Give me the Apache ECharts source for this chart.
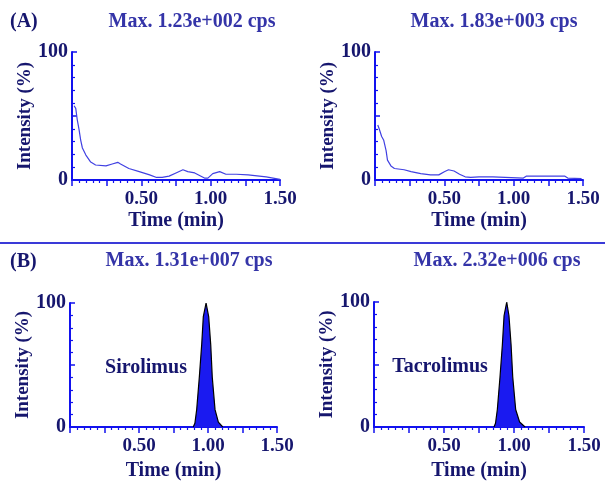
<!DOCTYPE html>
<html>
<head>
<meta charset="utf-8">
<script src="https://cdn.jsdelivr.net/npm/echarts@6/dist/echarts.min.js"></script>
<style>
html,body{margin:0;padding:0;background:#fff;}
#chart{width:605px;height:482px;}
</style>
</head>
<body>
<div id="chart"></div>
<script>
// ---- data (time in min, intensity in %) ----
const blankSirolimus = [[0.015,58],[0.027,56],[0.038,47],[0.05,40],[0.063,31],[0.075,25],[0.1,19.5],[0.135,14],[0.17,11.7],[0.245,11],[0.29,12.5],[0.33,13.8],[0.35,12.5],[0.41,9],[0.485,6.5],[0.56,4],[0.61,2],[0.65,2],[0.70,3],[0.75,5.5],[0.80,8],[0.835,6.5],[0.885,5.5],[0.955,1.5],[0.98,1.5],[1.015,5],[1.065,6.5],[1.11,4.5],[1.185,4.5],[1.27,4],[1.28,3],[1.40,2.5],[1.41,1],[1.5,0.5]];
const blankTacrolimus = [[0.02,43],[0.03,40],[0.048,34],[0.063,31],[0.08,23],[0.09,15.5],[0.115,11],[0.14,9],[0.21,8],[0.26,6.5],[0.33,5],[0.40,4],[0.46,4],[0.50,6.5],[0.53,8],[0.57,7],[0.61,4.5],[0.65,2.5],[0.69,2],[0.75,2.5],[0.85,2.5],[0.86,1.5],[1.07,1.5],[1.09,3],[1.37,3],[1.39,1.5],[1.49,1]];
const peakSirolimus = [[0.893,0],[0.905,3],[0.918,14],[0.937,40],[0.954,66],[0.966,89],[0.986,100],[1.005,89],[1.020,66],[1.031,40],[1.051,14],[1.075,4],[1.107,0]];
const peakTacrolimus = [[0.857,0],[0.868,3],[0.881,14],[0.9,40],[0.917,66],[0.929,89],[0.948,100],[0.964,89],[0.979,66],[0.991,40],[1.012,14],[1.04,4],[1.079,0]];
const panelTitles = ['Max. 1.23e+002 cps','Max. 1.83e+003 cps','Max. 1.31e+007 cps','Max. 2.32e+006 cps'];
const panelTags = ['(A)','(B)'];
const analytes = ['Sirolimus','Tacrolimus'];
const retentionLabels = ['1.01','0.95'];
const xTickLabels = ['0.50','1.00','1.50'];
const yTickLabels = ['0','100'];
const xName = 'Time (min)';
const yName = 'Intensity (%)';

// ---- styles ----
const FONT = '"Liberation Serif","Times New Roman",serif';
const NAVY = '#16166e';
const AXIS = '#1212ee';
const TITLE = '#3434a8';

const grids = [
  {left:72, top:52, width:208, height:128},
  {left:375, top:52, width:208, height:128},
  {left:70, top:303, width:207, height:128},
  {left:374, top:302, width:210, height:128}
];

function xAxis(i){
  return {
    gridIndex:i, type:'value', min:0, max:1.5, interval:0.25,
    axisLine:{show:true, onZero:false, lineStyle:{color:AXIS, width:2}},
    axisTick:{show:true, length:6, lineStyle:{color:AXIS, width:1.5}},
    minorTick:{show:true, splitNumber:5, length:3, lineStyle:{color:AXIS, width:1.2}},
    splitLine:{show:false},
    axisLabel:{
      margin:10, color:NAVY, fontFamily:FONT, fontWeight:'bold', fontSize:19,
      showMinLabel:true, showMaxLabel:true,
      formatter:function(v){ const s=v.toFixed(2); return xTickLabels.includes(s)?s:''; }
    },
    name:xName, nameLocation:'middle', nameGap:i<2?31:34,
    nameTextStyle:{color:NAVY, fontFamily:FONT, fontWeight:'bold', fontSize:20}
  };
}
function yAxis(i){
  return {
    gridIndex:i, type:'value', min:0, max:100, interval:50,
    axisLine:{show:true, lineStyle:{color:AXIS, width:2}},
    axisTick:{show:true, inside:true, length:5, lineStyle:{color:AXIS, width:1.5}},
    minorTick:{show:true, splitNumber:5, length:3, lineStyle:{color:AXIS, width:1.2}},
    splitLine:{show:false},
    axisLabel:{
      margin:4, color:NAVY, fontFamily:FONT, fontWeight:'bold', fontSize:20,
      formatter:function(v){ const s=String(v); return yTickLabels.includes(s)?s:''; }
    },
    name:yName, nameLocation:'middle', nameGap:33, nameRotate:90,
    nameTextStyle:{color:NAVY, fontFamily:FONT, fontWeight:'bold', fontSize:19}
  };
}

function traceSeries(i, data){
  return {type:'line', xAxisIndex:i, yAxisIndex:i, data:data, symbol:'none', silent:true,
    lineStyle:{color:'#4141e2', width:1.2}, z:3};
}
function peakSeries(i, data, label){
  let maxIdx = 0;
  data.forEach((d,k)=>{ if(d[1]>data[maxIdx][1]) maxIdx=k; });
  const items = data.map((d,k)=> k===maxIdx ? {value:d, label:{show:true, position:'top', distance:3, formatter:label,
      color:NAVY, fontFamily:FONT, fontWeight:'bold', fontSize:19}} : {value:d});
  return {type:'line', xAxisIndex:i, yAxisIndex:i, data:items, symbol:'none', silent:true,
    lineStyle:{color:'#000', width:1.2}, areaStyle:{color:'#1a1af0', opacity:1}, z:3};
}

const titlePos = [[192,22],[494,22],[189,261],[497,261]];
const graphics = [];
panelTitles.forEach((t,k)=>{
  graphics.push({type:'text', x:titlePos[k][0], y:titlePos[k][1], style:{text:t, align:'center', verticalAlign:'middle',
    font:'bold 20px '+FONT, fill:TITLE}});
});
graphics.push({type:'text', x:10, y:22, style:{text:panelTags[0], verticalAlign:'middle', font:'bold 20px '+FONT, fill:NAVY}});
graphics.push({type:'text', x:10, y:262, style:{text:panelTags[1], verticalAlign:'middle', font:'bold 20px '+FONT, fill:NAVY}});
graphics.push({type:'text', x:146, y:368, style:{text:analytes[0], align:'center', verticalAlign:'middle', font:'bold 20px '+FONT, fill:NAVY}});
graphics.push({type:'text', x:440, y:367, style:{text:analytes[1], align:'center', verticalAlign:'middle', font:'bold 20px '+FONT, fill:NAVY}});
graphics.push({type:'line', shape:{x1:0, y1:243, x2:605, y2:243}, style:{stroke:'#3a3ad8', lineWidth:2}});

const chart = echarts.init(document.getElementById('chart'), null, {renderer:'canvas'});
chart.setOption({
  animation:false,
  backgroundColor:'#fff',
  grid:grids,
  xAxis:[0,1,2,3].map(xAxis),
  yAxis:[0,1,2,3].map(yAxis),
  series:[
    traceSeries(0, blankSirolimus),
    traceSeries(1, blankTacrolimus),
    peakSeries(2, peakSirolimus, retentionLabels[0]),
    peakSeries(3, peakTacrolimus, retentionLabels[1])
  ],
  graphic:graphics
});
</script>
</body>
</html>
